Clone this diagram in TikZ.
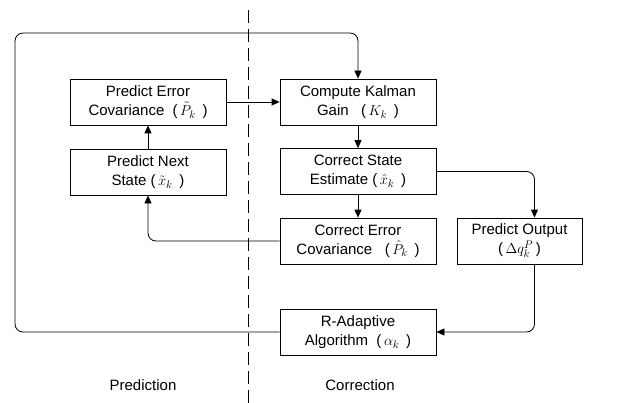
\documentclass[tikz,border=0pt]{standalone}
\usepackage{fontspec}
\setmainfont{Liberation Sans}
\usetikzlibrary{arrows.meta}
\begin{document}
\begin{tikzpicture}[x=1pt,y=-1pt,
  blk/.style={draw=black,line width=0.8pt,minimum width=156pt,minimum height=46pt,inner sep=0pt,align=center,font=\fontsize{15}{19}\selectfont},
  lbl/.style={font=\fontsize{15}{19}\selectfont},
  arr/.style={line width=0.8pt,-{Triangle[length=8pt,width=7pt]},rounded corners=8pt},
  divider/.style={line width=0.9pt,dash pattern=on 13pt off 6pt}]
\useasboundingbox (0,0) rectangle (617,403);
\node[blk] (pe) at (148,102) {Predict Error\\Covariance~~(\,$\tilde{P}_k$\ \,)};
\node[blk] (pn) at (148,172) {Predict Next\\State (\,$\tilde{x}_k$\ \,)};
\node[blk] (kg) at (358,102) {Compute Kalman\\Gain~~~(\,$K_k$\ \,)};
\node[blk] (cs) at (358,171.5) {Correct State\\Estimate (\,$\hat{x}_k$\ \,)};
\node[blk] (ce) at (358,241) {Correct Error\\Covariance~~~(\,$\hat{P}_k$\ \,)};
\node[blk,minimum width=125pt] (po) at (519.5,241) {Predict Output\\(\,$\Delta q_k^{P}$\,)};
\node[blk] (ra) at (358,332) {R-Adaptive\\Algorithm~~(\,$\alpha_k$\ \,)};
\node[lbl] (lp) at (143,385) {Prediction};
\node[lbl] (lc) at (360,385) {Correction};
\coordinate (tl) at (15,33);
\coordinate (dtop) at (248,10);
\coordinate (dbot) at (248,403);
\draw[divider] (dtop) -- (dbot);
\draw[arr] (pn.north) -- (pe.south);
\draw[arr] (pe.east) -- (kg.west);
\draw[arr] (kg.south) -- (cs.north);
\draw[arr] (cs.south) -- (ce.north);
\draw[arr] (cs.east) -| ([xshift=15pt]po.north);
\draw[arr] ([xshift=15pt]po.south) |- (ra.east);
\draw[arr] (ce.west) -| (pn.south);
\draw[arr] (ra.west) -| (tl) -| (kg.north);
\end{tikzpicture}
\end{document}
